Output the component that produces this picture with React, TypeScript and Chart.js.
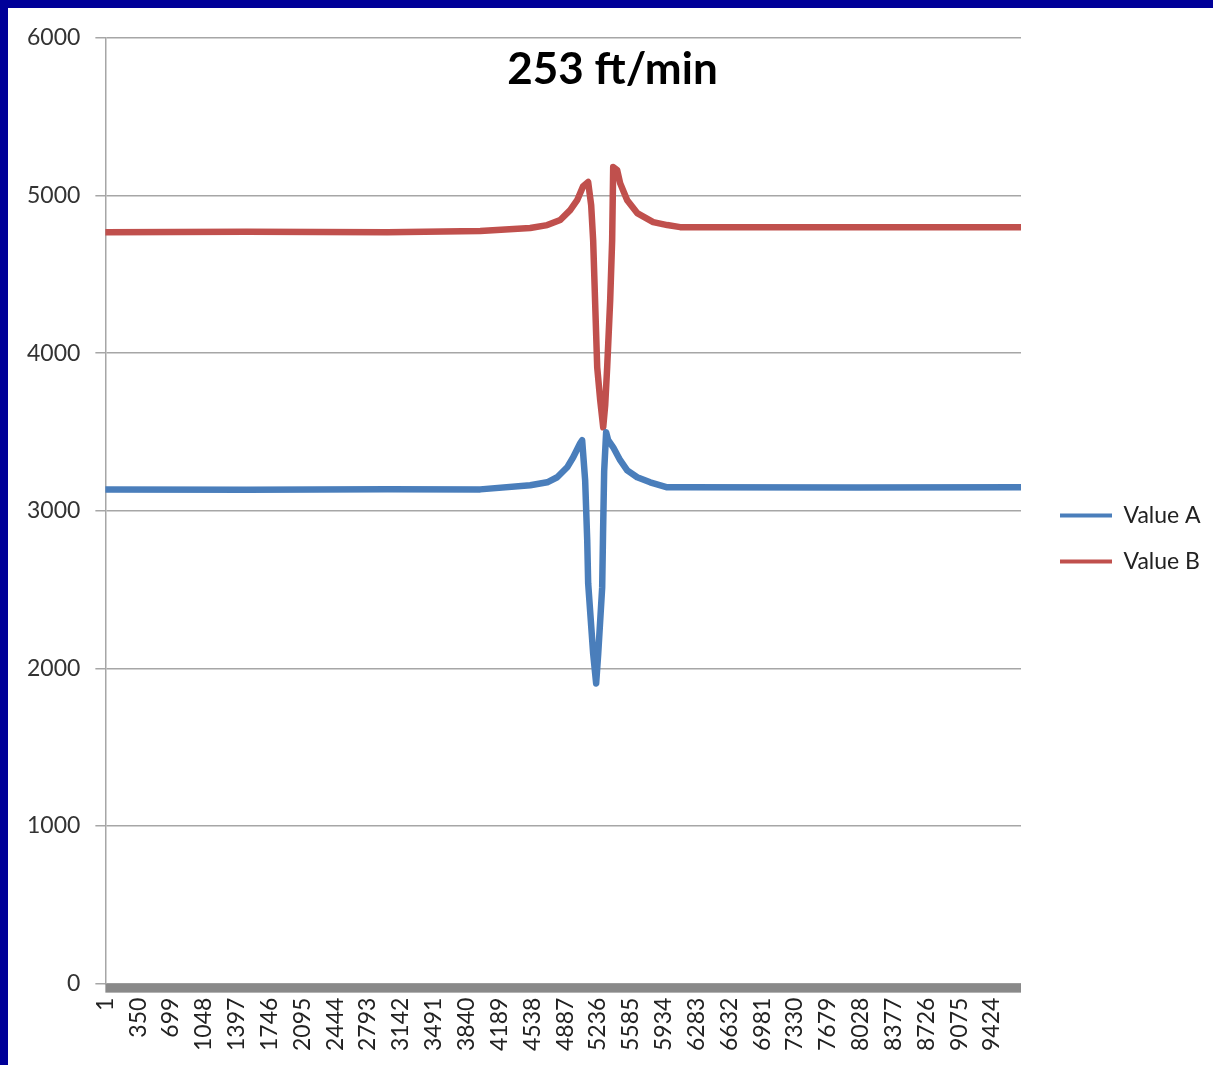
import React, { useEffect, useRef } from "react";
import { Chart, registerables } from "chart.js";

Chart.register(...registerables);

const titleText = "253 ft/min";
const seriesNames = ["Value A", "Value B"];

const xTickLabels = [
  1, 350, 699, 1048, 1397, 1746, 2095, 2444, 2793, 3142, 3491, 3840, 4189, 4538,
  4887, 5236, 5585, 5934, 6283, 6632, 6981, 7330, 7679, 8028, 8377, 8726, 9075, 9424,
];
const yTickValues = [0, 1000, 2000, 3000, 4000, 5000, 6000];

// Value A (blue): sample positions and values
const aX = [1, 1500, 3000, 3985, 4516, 4697, 4803, 4909, 4973, 5047, 5068, 5100, 5122, 5132, 5185, 5217, 5239, 5281, 5290, 5302, 5323, 5345, 5398, 5472, 5547, 5653, 5791, 5972, 6110, 8000, 9732];
const aY = [3136, 3134, 3137, 3136, 3162, 3181, 3213, 3276, 3340, 3429, 3448, 3194, 2813, 2540, 2095, 1905, 2095, 2514, 2850, 3250, 3498, 3448, 3403, 3321, 3257, 3213, 3181, 3149, 3149, 3148, 3149];

// Value B (red)
const bX = [1, 1500, 3000, 3985, 4516, 4697, 4835, 4941, 5015, 5079, 5132, 5164, 5185, 5228, 5260, 5292, 5313, 5334, 5366, 5387, 5398, 5440, 5472, 5547, 5653, 5823, 5972, 6110, 8000, 9732];
const bY = [4768, 4770, 4768, 4775, 4794, 4813, 4845, 4908, 4971, 5060, 5086, 4940, 4717, 3911, 3702, 3530, 3670, 3911, 4336, 4717, 5181, 5162, 5079, 4971, 4889, 4832, 4813, 4800, 4800, 4800];

const colorA = "#4a7ebb";
const colorB = "#c0504d";
const FONT = "Lato";

export default function App() {
  const ref = useRef<HTMLCanvasElement | null>(null);

  useEffect(() => {
    document.body.style.margin = "0";
    const canvas = ref.current;
    if (!canvas) return;

    const innerTitle = {
      id: "innerTitle",
      afterDraw(chart: any) {
        const ctx = chart.ctx;
        ctx.save();
        ctx.font = `bold 44px ${FONT}`;
        ctx.fillStyle = "#000";
        ctx.textAlign = "center";
        ctx.textBaseline = "middle";
        ctx.fillText(titleText, chart.width / 2 + 2, 62);
        ctx.restore();
      },
    };

    const axisBar = {
      id: "axisBar",
      afterDraw(chart: any) {
        const { ctx, chartArea } = chart;
        ctx.save();
        ctx.fillStyle = "#898989";
        ctx.fillRect(chartArea.left, chartArea.bottom, chartArea.right - chartArea.left, 9);
        ctx.restore();
      },
    };

    // Legend block: reserve a fixed width on the right and place its items.
    const legendFit = {
      id: "legendFit",
      afterInit(chart: any) {
        const lg = chart.legend;
        if (!lg) return;
        const orig = lg.fit;
        lg.fit = function () {
          orig.call(this);
          this.width = 192;
        };
      },
      afterLayout(chart: any) {
        if (chart.legend) {
          chart.legend.left += 16;
          chart.legend.right += 16;
          chart.legend.top -= 13;
          chart.legend.bottom -= 13;
        }
      },
    };

    const common = {
      borderWidth: 6.5,
      pointRadius: 0,
      tension: 0,
      borderJoinStyle: "round" as const,
      borderCapStyle: "round" as const,
    };

    const chart = new Chart(canvas, {
      type: "line",
      data: {
        datasets: [
          {
            label: seriesNames[0],
            data: aX.map((x, i) => ({ x, y: aY[i] })),
            borderColor: colorA,
            backgroundColor: colorA,
            ...common,
          },
          {
            label: seriesNames[1],
            data: bX.map((x, i) => ({ x, y: bY[i] })),
            borderColor: colorB,
            backgroundColor: colorB,
            ...common,
          },
        ],
      },
      options: {
        responsive: false,
        animation: false,
        layout: { padding: { top: 30, left: 4, bottom: 0, right: 0 } },
        scales: {
          x: {
            type: "linear",
            min: 1,
            max: 9732,
            afterBuildTicks: (scale: any) => {
              scale.ticks = xTickLabels.map((v) => ({ value: v }));
            },
            grid: { display: false, drawTicks: false },
            border: { display: false },
            ticks: {
              autoSkip: false,
              maxRotation: 90,
              minRotation: 90,
              padding: 14,
              color: "#222",
              font: { family: FONT, size: 23 },
              callback: (v: any) => String(v),
            },
          },
          y: {
            min: 0,
            max: 6000,
            afterBuildTicks: (scale: any) => {
              scale.ticks = yTickValues.map((v) => ({ value: v }));
            },
            grid: { color: "#a6a6a6", lineWidth: 1.5, tickLength: 10 },
            border: { display: true, color: "#a6a6a6", width: 1.5 },
            ticks: {
              padding: 15,
              color: "#333",
              font: { family: FONT, size: 23 },
              callback: (v: any) => String(v),
            },
          },
        },
        plugins: {
          title: { display: false },
          tooltip: { enabled: false },
          legend: {
            position: "right",
            align: "center",
            labels: {
              boxWidth: 52,
              boxHeight: 4,
              padding: 23,
              color: "#222",
              font: { family: FONT, size: 23 },
              generateLabels: (c: any) =>
                (Chart.defaults.plugins.legend.labels as any)
                  .generateLabels(c)
                  .map((l: any) => ({ ...l, lineWidth: 0 })),
            },
          },
        },
      },
      plugins: [innerTitle, axisBar, legendFit],
    });

    return () => chart.destroy();
  }, []);

  return (
    <div
      style={{
        position: "absolute",
        left: 0,
        top: 0,
        width: 1213,
        height: 1065,
        boxSizing: "border-box",
        borderTop: "8px solid #000099",
        borderLeft: "8px solid #000099",
        background: "#fff",
        overflow: "hidden",
      }}
    >
      <canvas ref={ref} width={1205} height={1057} style={{ display: "block" }} />
    </div>
  );
}
